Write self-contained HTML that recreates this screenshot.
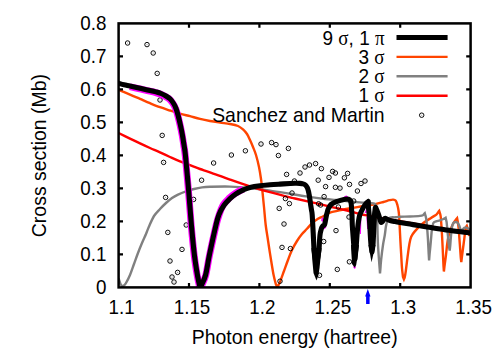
<!DOCTYPE html>
<html><head><meta charset="utf-8">
<style>
html,body{margin:0;padding:0;background:#fff;}
svg{display:block;}
text{font-family:"Liberation Sans",sans-serif;font-size:20px;fill:#000;}
.sym{font-family:"Liberation Serif",serif;}
</style></head>
<body>
<svg width="500" height="350" viewBox="0 0 500 350">
<rect width="500" height="350" fill="#fff"/>
<defs>
<clipPath id="cp"><rect x="118.6" y="23.4" width="352.0" height="264.0"/></clipPath>
<g id="pt"><circle r="2.25" fill="none" stroke="#000" stroke-width="0.95"/><circle r="0.55" fill="#000" fill-opacity="0.45"/></g>
</defs>
<g clip-path="url(#cp)" fill="none" stroke-linejoin="round" stroke-linecap="butt">
<path d="M118.60,89.90 C120.50,90.68 126.43,93.10 130.00,94.60 C133.57,96.10 136.67,97.47 140.00,98.90 C143.33,100.33 146.67,101.82 150.00,103.20 C153.33,104.58 156.67,105.98 160.00,107.20 C163.33,108.42 166.67,109.43 170.00,110.50 C173.33,111.57 176.67,112.65 180.00,113.60 C183.33,114.55 186.67,115.32 190.00,116.20 C193.33,117.08 196.67,118.10 200.00,118.90 C203.33,119.70 206.67,120.38 210.00,121.00 C213.33,121.62 216.67,122.10 220.00,122.60 C223.33,123.10 227.00,123.43 230.00,124.00 C233.00,124.57 235.83,125.10 238.00,126.00 C240.17,126.90 241.50,128.07 243.00,129.40 C244.50,130.73 245.83,132.23 247.00,134.00 C248.17,135.77 249.00,137.83 250.00,140.00 C251.00,142.17 252.00,144.50 253.00,147.00 C254.00,149.50 255.00,151.67 256.00,155.00 C257.00,158.33 258.17,163.00 259.00,167.00 C259.83,171.00 260.43,175.00 261.00,179.00 C261.57,183.00 261.90,186.33 262.40,191.00 C262.90,195.67 263.45,201.33 264.00,207.00 C264.55,212.67 265.12,220.00 265.70,225.00 C266.28,230.00 266.90,233.00 267.50,237.00 C268.10,241.00 268.68,245.00 269.30,249.00 C269.92,253.00 270.48,256.67 271.20,261.00 C271.92,265.33 272.83,271.17 273.60,275.00 C274.37,278.83 275.43,282.50 275.80,284.00 L277.40,287.20 C277.67,286.67 278.57,284.87 279.00,284.00 C279.43,283.13 279.17,284.17 280.00,282.00 C280.83,279.83 282.67,274.67 284.00,271.00 C285.33,267.33 286.67,263.50 288.00,260.00 C289.33,256.50 290.50,253.17 292.00,250.00 C293.50,246.83 295.33,243.67 297.00,241.00 C298.67,238.33 300.33,236.03 302.00,234.00 C303.67,231.97 305.33,230.60 307.00,228.80 C308.67,227.00 310.17,224.87 312.00,223.20 C313.83,221.53 316.20,219.92 318.00,218.80 C319.80,217.68 320.80,217.53 322.80,216.50 C324.80,215.47 326.80,213.72 330.00,212.60 C333.20,211.48 338.60,210.53 342.00,209.80 C345.40,209.07 346.90,208.80 350.40,208.20 C353.90,207.60 358.90,206.87 363.00,206.20 C367.10,205.53 371.60,204.90 375.00,204.20 C378.40,203.50 381.00,202.67 383.40,202.00 C385.80,201.33 387.77,200.60 389.40,200.20 C391.03,199.80 392.13,199.50 393.20,199.60 C394.27,199.70 395.10,199.90 395.80,200.80 C396.50,201.70 396.93,203.30 397.40,205.00 C397.87,206.70 398.30,209.00 398.60,211.00 C398.90,213.00 399.00,214.00 399.20,217.00 C399.40,220.00 399.60,225.00 399.80,229.00 C400.00,233.00 400.18,237.00 400.40,241.00 C400.62,245.00 400.83,248.50 401.10,253.00 C401.37,257.50 401.68,264.00 402.00,268.00 C402.32,272.00 402.83,275.50 403.00,277.00 L403.90,279.30 C404.05,278.92 404.48,278.38 404.80,277.00 C405.12,275.62 405.33,274.40 405.80,271.00 C406.27,267.60 407.00,261.10 407.60,256.60 C408.20,252.10 408.80,247.30 409.40,244.00 C410.00,240.70 410.30,238.90 411.20,236.80 C412.10,234.70 413.00,233.50 414.80,231.40 C416.60,229.30 419.30,226.45 422.00,224.20 C424.70,221.95 428.60,219.50 431.00,217.90 C433.40,216.30 435.13,215.65 436.40,214.60 C437.67,213.55 438.23,212.10 438.60,211.60 L439.20,210.90 L440.20,214.00 C440.32,214.75 440.60,215.00 440.90,218.50 C441.20,222.00 441.67,229.25 442.00,235.00 C442.33,240.75 442.65,247.83 442.90,253.00 C443.15,258.17 443.40,263.83 443.50,266.00 L443.90,271.50 L444.50,266.00 C444.72,264.43 445.35,260.27 445.80,256.60 C446.25,252.93 446.75,247.43 447.20,244.00 C447.65,240.57 447.90,238.50 448.50,236.00 C449.10,233.50 449.97,231.17 450.80,229.00 C451.63,226.83 452.57,224.67 453.50,223.00 C454.43,221.33 455.92,219.67 456.40,219.00 L457.10,218.20 L457.80,222.00 C457.93,223.00 458.27,224.33 458.60,228.00 C458.93,231.67 459.43,239.00 459.80,244.00 C460.17,249.00 460.63,255.67 460.80,258.00 L461.30,262.00 L461.90,257.00 C462.07,255.73 462.50,252.47 462.90,249.40 C463.30,246.33 463.90,241.67 464.30,238.60 C464.70,235.53 464.97,233.02 465.30,231.00 C465.63,228.98 466.13,227.25 466.30,226.50 L466.80,225.80 L467.80,229.00 L469.40,236.00" stroke="#ff4500" stroke-width="2.4" stroke-linejoin="miter" stroke-miterlimit="6"/>
<path d="M118.60,278.50 C118.92,279.42 119.87,282.72 120.50,284.00 C121.13,285.28 121.82,285.97 122.40,286.20 C122.98,286.43 123.40,285.93 124.00,285.40 C124.60,284.87 125.00,284.73 126.00,283.00 C127.00,281.27 128.67,278.17 130.00,275.00 C131.33,271.83 132.67,267.67 134.00,264.00 C135.33,260.33 136.67,256.50 138.00,253.00 C139.33,249.50 140.67,246.17 142.00,243.00 C143.33,239.83 144.83,236.75 146.00,234.00 C147.17,231.25 147.67,229.50 149.00,226.50 C150.33,223.50 152.17,218.92 154.00,216.00 C155.83,213.08 158.00,211.17 160.00,209.00 C162.00,206.83 164.00,204.83 166.00,203.00 C168.00,201.17 170.00,199.40 172.00,198.00 C174.00,196.60 175.67,195.70 178.00,194.60 C180.33,193.50 183.33,192.33 186.00,191.40 C188.67,190.47 191.33,189.67 194.00,189.00 C196.67,188.33 199.33,187.77 202.00,187.40 C204.67,187.03 205.33,186.93 210.00,186.80 C214.67,186.67 223.33,186.40 230.00,186.60 C236.67,186.80 243.33,187.33 250.00,188.00 C256.67,188.67 263.33,189.63 270.00,190.60 C276.67,191.57 284.00,192.83 290.00,193.80 C296.00,194.77 300.17,195.53 306.00,196.40 C311.83,197.27 320.00,198.40 325.00,199.00 C330.00,199.60 332.17,199.62 336.00,200.00 C339.83,200.38 344.00,200.90 348.00,201.30 C352.00,201.70 356.33,202.10 360.00,202.40 C363.67,202.70 367.60,202.88 370.00,203.10 C372.40,203.32 373.40,203.22 374.40,203.70 C375.40,204.18 375.58,204.12 376.00,206.00 C376.42,207.88 376.67,211.83 376.90,215.00 C377.13,218.17 377.28,221.67 377.40,225.00 C377.52,228.33 377.50,231.67 377.60,235.00 C377.70,238.33 377.77,240.83 378.00,245.00 C378.23,249.17 378.72,256.00 379.00,260.00 C379.28,264.00 379.58,267.50 379.70,269.00 L380.00,273.30 L380.40,269.00 C380.52,267.50 380.67,264.00 381.10,260.00 C381.53,256.00 382.38,249.17 383.00,245.00 C383.62,240.83 384.30,238.17 384.80,235.00 C385.30,231.83 385.55,228.42 386.00,226.00 C386.45,223.58 386.83,221.90 387.50,220.50 C388.17,219.10 388.75,218.13 390.00,217.60 C391.25,217.07 393.33,217.43 395.00,217.30 C396.67,217.17 397.50,216.93 400.00,216.80 C402.50,216.67 406.67,216.65 410.00,216.50 C413.33,216.35 417.83,216.12 420.00,215.90 C422.17,215.68 422.27,215.58 423.00,215.20 C423.73,214.82 424.17,213.87 424.40,213.60 L424.80,213.20 L425.60,216.00 C425.75,216.83 426.13,217.53 426.50,221.00 C426.87,224.47 427.43,231.30 427.80,236.80 C428.17,242.30 428.55,251.13 428.70,254.00 L429.10,260.40 L429.60,254.00 C429.75,252.50 430.22,248.00 430.50,245.00 C430.78,242.00 431.07,238.57 431.30,236.00 C431.53,233.43 431.55,231.77 431.90,229.60 C432.25,227.43 432.72,224.37 433.40,223.00 C434.08,221.63 434.90,221.83 436.00,221.40 C437.10,220.97 438.75,220.80 440.00,220.40 C441.25,220.00 442.67,219.37 443.50,219.00 C444.33,218.63 444.75,218.33 445.00,218.20 L445.60,217.80 L446.60,222.00 C446.73,223.33 447.07,226.50 447.40,230.00 C447.73,233.50 448.28,239.92 448.60,243.00 C448.92,246.08 449.18,247.58 449.30,248.50 L449.70,250.60 L450.20,246.00 C450.32,244.50 450.60,240.17 450.90,237.00 C451.20,233.83 451.58,229.33 452.00,227.00 C452.42,224.67 452.87,223.83 453.40,223.00 C453.93,222.17 454.53,222.07 455.20,222.00 C455.87,221.93 456.73,222.02 457.40,222.60 C458.07,223.18 458.67,224.35 459.20,225.50 C459.73,226.65 460.05,228.83 460.60,229.50 C461.15,230.17 461.88,229.78 462.50,229.50 C463.12,229.22 463.72,228.12 464.30,227.80 C464.88,227.48 465.25,227.40 466.00,227.60 C466.75,227.80 468.03,228.60 468.80,229.00 C469.57,229.40 470.30,229.83 470.60,230.00" stroke="#808080" stroke-width="2.4" stroke-linejoin="miter" stroke-miterlimit="6"/>
<path d="M118.60,133.00 C120.50,133.93 126.43,136.87 130.00,138.60 C133.57,140.33 136.67,141.83 140.00,143.40 C143.33,144.97 146.67,146.50 150.00,148.00 C153.33,149.50 156.67,150.90 160.00,152.40 C163.33,153.90 166.67,155.50 170.00,157.00 C173.33,158.50 176.67,160.03 180.00,161.40 C183.33,162.77 186.67,163.93 190.00,165.20 C193.33,166.47 196.67,167.82 200.00,169.00 C203.33,170.18 205.00,170.53 210.00,172.30 C215.00,174.07 223.33,177.25 230.00,179.60 C236.67,181.95 243.33,184.30 250.00,186.40 C256.67,188.50 263.33,190.37 270.00,192.20 C276.67,194.03 285.83,196.35 290.00,197.40 C294.17,198.45 290.00,197.37 295.00,198.50 C300.00,199.63 311.67,202.28 320.00,204.20 C328.33,206.12 338.33,208.37 345.00,210.00 C351.67,211.63 355.83,213.00 360.00,214.00 C364.17,215.00 366.33,215.28 370.00,216.00 C373.67,216.72 377.00,217.43 382.00,218.30 C387.00,219.17 391.83,219.82 400.00,221.20 C408.17,222.58 422.67,225.20 431.00,226.60 C439.33,228.00 443.40,228.65 450.00,229.60 C456.60,230.55 467.17,231.85 470.60,232.30" stroke="#ff0000" stroke-width="2.4"/>
<use href="#pt" x="127.6" y="43.0"/>
<use href="#pt" x="147.0" y="44.6"/>
<use href="#pt" x="153.2" y="53.0"/>
<use href="#pt" x="157.2" y="73.4"/>
<use href="#pt" x="160.0" y="100.0"/>
<use href="#pt" x="162.2" y="135.4"/>
<use href="#pt" x="163.6" y="162.4"/>
<use href="#pt" x="165.6" y="197.4"/>
<use href="#pt" x="167.8" y="232.4"/>
<use href="#pt" x="170.0" y="261.0"/>
<use href="#pt" x="172.0" y="277.0"/>
<use href="#pt" x="174.0" y="282.0"/>
<use href="#pt" x="177.6" y="272.4"/>
<use href="#pt" x="182.0" y="249.4"/>
<use href="#pt" x="186.2" y="225.0"/>
<use href="#pt" x="193.6" y="199.4"/>
<use href="#pt" x="201.6" y="180.2"/>
<use href="#pt" x="213.6" y="163.0"/>
<use href="#pt" x="231.4" y="155.0"/>
<use href="#pt" x="245.4" y="150.8"/>
<use href="#pt" x="261.0" y="144.0"/>
<use href="#pt" x="271.6" y="142.6"/>
<use href="#pt" x="276.0" y="144.6"/>
<use href="#pt" x="288.4" y="148.4"/>
<use href="#pt" x="278.4" y="155.5"/>
<use href="#pt" x="286.6" y="174.4"/>
<use href="#pt" x="300.0" y="173.0"/>
<use href="#pt" x="305.0" y="167.0"/>
<use href="#pt" x="309.5" y="165.0"/>
<use href="#pt" x="315.6" y="163.6"/>
<use href="#pt" x="321.4" y="168.6"/>
<use href="#pt" x="332.6" y="171.4"/>
<use href="#pt" x="335.4" y="173.0"/>
<use href="#pt" x="329.0" y="177.4"/>
<use href="#pt" x="318.2" y="180.2"/>
<use href="#pt" x="325.6" y="186.6"/>
<use href="#pt" x="335.4" y="187.3"/>
<use href="#pt" x="340.0" y="188.1"/>
<use href="#pt" x="344.4" y="177.8"/>
<use href="#pt" x="347.6" y="173.4"/>
<use href="#pt" x="349.5" y="184.4"/>
<use href="#pt" x="357.4" y="191.0"/>
<use href="#pt" x="361.0" y="183.5"/>
<use href="#pt" x="365.0" y="181.0"/>
<use href="#pt" x="324.1" y="196.6"/>
<use href="#pt" x="318.6" y="203.8"/>
<use href="#pt" x="320.6" y="205.0"/>
<use href="#pt" x="338.4" y="207.0"/>
<use href="#pt" x="353.7" y="201.0"/>
<use href="#pt" x="349.0" y="217.0"/>
<use href="#pt" x="336.0" y="230.6"/>
<use href="#pt" x="323.7" y="241.5"/>
<use href="#pt" x="349.4" y="261.8"/>
<use href="#pt" x="337.3" y="269.4"/>
<use href="#pt" x="319.5" y="275.3"/>
<use href="#pt" x="294.4" y="181.0"/>
<use href="#pt" x="292.0" y="193.0"/>
<use href="#pt" x="285.4" y="198.6"/>
<use href="#pt" x="289.4" y="203.6"/>
<use href="#pt" x="279.2" y="208.4"/>
<use href="#pt" x="284.0" y="224.0"/>
<use href="#pt" x="282.0" y="247.4"/>
<use href="#pt" x="290.4" y="248.6"/>
<use href="#pt" x="280.0" y="281.2"/>
<path d="M129.85,86.75 C131.52,87.12 136.52,88.22 139.85,88.95 C143.18,89.68 147.18,90.53 149.85,91.15 C152.52,91.77 154.02,92.13 155.85,92.65 C157.68,93.17 159.18,93.57 160.85,94.25 C162.52,94.93 164.35,95.87 165.85,96.75 C167.35,97.63 168.58,98.30 169.85,99.55 C171.12,100.80 172.45,102.63 173.45,104.25 C174.45,105.87 175.12,107.33 175.85,109.25 C176.58,111.17 177.12,113.00 177.85,115.75 C178.58,118.50 179.52,122.42 180.25,125.75 C180.98,129.08 181.65,132.42 182.25,135.75 C182.85,139.08 183.35,142.42 183.85,145.75 C184.35,149.08 184.48,148.25 185.25,155.75 C186.02,163.25 187.45,179.08 188.45,190.75 C189.45,202.42 190.28,214.92 191.25,225.75 C192.22,236.58 193.25,247.42 194.25,255.75 C195.25,264.08 196.37,270.58 197.25,275.75 C198.13,280.92 199.17,284.92 199.55,286.75 L200.40,291.00 C200.55,290.23 200.42,289.00 201.30,286.40 C202.18,283.80 204.33,280.57 205.70,275.40 C207.07,270.23 207.77,263.73 209.50,255.40 C211.23,247.07 214.50,232.15 216.10,225.40 C217.70,218.65 217.90,218.33 219.10,214.90 C220.30,211.47 221.60,207.60 223.30,204.80 C225.00,202.00 227.30,200.02 229.30,198.10 C231.30,196.18 232.97,194.80 235.30,193.30 C237.63,191.80 241.97,189.80 243.30,189.10" stroke="#ff00ff" stroke-width="6.9"/>
<path d="M343.50,198.50 L346.20,196.60 L348.30,198.60" stroke="#ff00ff" stroke-width="2.2" stroke-linecap="round"/>
<path d="M322.30,220.50 L322.60,218.50" stroke="#ff00ff" stroke-width="2.2" stroke-linecap="round"/>
<path d="M324.20,228.00 L325.20,227.00" stroke="#ff00ff" stroke-width="2.2" stroke-linecap="round"/>
<path d="M354.40,267.00 L354.70,267.60" stroke="#ff00ff" stroke-width="2.2" stroke-linecap="round"/>
<path d="M388.00,218.60 L389.00,219.00" stroke="#ff00ff" stroke-width="2.2" stroke-linecap="round"/>
<path d="M360.8,219 L360.4,234" stroke="#ff00ff" stroke-width="1.1"/>
<path d="M366.9,217 L367.6,229" stroke="#ff00ff" stroke-width="1.0"/>
<path d="M364.6,213 L366.2,208.5 L366.7,213 Z" fill="#ff00ff" stroke="none"/>
<path d="M118.60,83.30 C119.50,83.53 122.10,84.25 124.00,84.70 C125.90,85.15 127.33,85.42 130.00,86.00 C132.67,86.58 136.67,87.47 140.00,88.20 C143.33,88.93 147.33,89.78 150.00,90.40 C152.67,91.02 154.17,91.38 156.00,91.90 C157.83,92.42 159.33,92.82 161.00,93.50 C162.67,94.18 164.50,95.12 166.00,96.00 C167.50,96.88 168.73,97.55 170.00,98.80 C171.27,100.05 172.60,101.88 173.60,103.50 C174.60,105.12 175.27,106.58 176.00,108.50 C176.73,110.42 177.27,112.25 178.00,115.00 C178.73,117.75 179.67,121.67 180.40,125.00 C181.13,128.33 181.80,131.67 182.40,135.00 C183.00,138.33 183.50,141.67 184.00,145.00 C184.50,148.33 184.63,147.50 185.40,155.00 C186.17,162.50 187.60,178.33 188.60,190.00 C189.60,201.67 190.43,214.17 191.40,225.00 C192.37,235.83 193.40,246.67 194.40,255.00 C195.40,263.33 196.52,269.83 197.40,275.00 C198.28,280.17 199.32,284.17 199.70,286.00 L200.40,291.00 C200.53,290.17 200.33,288.67 201.20,286.00 C202.07,283.33 204.23,280.17 205.60,275.00 C206.97,269.83 207.67,263.33 209.40,255.00 C211.13,246.67 214.40,231.75 216.00,225.00 C217.60,218.25 217.67,217.78 219.00,214.50 C220.33,211.22 222.17,207.95 224.00,205.30 C225.83,202.65 228.00,200.52 230.00,198.60 C232.00,196.68 233.67,195.30 236.00,193.80 C238.33,192.30 241.67,190.67 244.00,189.60 C246.33,188.53 247.33,188.05 250.00,187.40 C252.67,186.75 256.67,186.13 260.00,185.70 C263.33,185.27 266.67,185.07 270.00,184.80 C273.33,184.53 276.67,184.32 280.00,184.10 C283.33,183.88 287.50,183.63 290.00,183.50 C292.50,183.37 293.33,183.32 295.00,183.30 C296.67,183.28 298.67,183.30 300.00,183.40 C301.33,183.50 302.08,183.62 303.00,183.90 C303.92,184.18 304.78,184.48 305.50,185.10 C306.22,185.72 306.82,186.62 307.30,187.60 C307.78,188.58 308.08,189.77 308.40,191.00 C308.72,192.23 308.93,193.50 309.20,195.00 C309.47,196.50 309.75,198.33 310.00,200.00 C310.25,201.67 310.45,203.33 310.70,205.00 C310.95,206.67 311.25,208.33 311.50,210.00 C311.75,211.67 311.90,210.83 312.20,215.00 C312.50,219.17 313.00,229.17 313.30,235.00 C313.60,240.83 313.88,247.50 314.00,250.00 L316.40,266.00 L319.00,250.00 C319.17,247.50 319.58,238.63 320.00,235.00 C320.42,231.37 321.07,229.67 321.50,228.20 C321.93,226.73 322.12,226.73 322.60,226.20 C323.08,225.67 323.97,225.70 324.40,225.00 C324.83,224.30 324.85,223.67 325.20,222.00 C325.55,220.33 326.17,216.58 326.50,215.00 C326.83,213.42 326.92,213.50 327.20,212.50 C327.48,211.50 327.57,210.33 328.20,209.00 C328.83,207.67 329.62,205.72 331.00,204.50 C332.38,203.28 334.17,202.57 336.50,201.70 C338.83,200.83 343.00,199.72 345.00,199.30 C347.00,198.88 347.60,198.95 348.50,199.20 C349.40,199.45 349.93,199.92 350.40,200.80 C350.87,201.68 351.10,202.97 351.30,204.50 C351.50,206.03 351.48,208.25 351.60,210.00 C351.72,211.75 351.88,212.50 352.00,215.00 C352.12,217.50 352.13,221.67 352.30,225.00 C352.47,228.33 352.75,231.67 353.00,235.00 C353.25,238.33 353.67,243.33 353.80,245.00 L355.00,259.00 L356.30,245.00 C356.42,243.33 356.72,238.33 357.00,235.00 C357.28,231.67 357.58,228.17 358.00,225.00 C358.42,221.83 358.87,218.42 359.50,216.00 C360.13,213.58 361.02,212.17 361.80,210.50 C362.58,208.83 363.42,207.27 364.20,206.00 C364.98,204.73 365.87,203.60 366.50,202.90 C367.13,202.20 367.75,201.98 368.00,201.80 L368.30,201.50 L368.40,207.00 L369.20,215.00 C369.38,218.33 370.00,230.00 370.30,235.00 C370.60,240.00 370.88,243.33 371.00,245.00 L372.00,252.00 L373.00,245.00 C373.08,243.33 373.25,240.00 373.50,235.00 C373.75,230.00 374.20,219.50 374.50,215.00 C374.80,210.50 375.17,209.17 375.30,208.00 L375.60,207.30 L377.20,211.00 C377.50,211.83 378.50,214.42 379.00,216.00 C379.50,217.58 379.83,219.42 380.20,220.50 C380.57,221.58 380.80,222.33 381.20,222.50 C381.60,222.67 382.13,222.08 382.60,221.50 C383.07,220.92 383.57,219.52 384.00,219.00 C384.43,218.48 384.70,218.37 385.20,218.40 C385.70,218.43 386.20,218.85 387.00,219.20 C387.80,219.55 388.67,220.10 390.00,220.50 C391.33,220.90 393.33,221.27 395.00,221.60 C396.67,221.93 397.50,222.08 400.00,222.50 C402.50,222.92 406.67,223.55 410.00,224.10 C413.33,224.65 416.50,225.22 420.00,225.80 C423.50,226.38 426.17,226.85 431.00,227.60 C435.83,228.35 442.40,229.40 449.00,230.30 C455.60,231.20 467.00,232.55 470.60,233.00" stroke="#000" stroke-width="5.1"/>
<path d="M311.50,248.00 L312.30,260.00 L313.50,273.00 L316.50,280.60 L318.50,275.00 L319.50,268.00 L321.50,248.00 Z" fill="#000" stroke="none"/>
<path d="M351.00,245.00 L351.50,255.00 L352.00,264.00 L354.80,267.70 L356.20,265.00 L359.00,245.00 Z" fill="#000" stroke="none"/>
<path d="M368.50,245.00 L371.50,262.30 L375.50,245.00 Z" fill="#000" stroke="none"/>
<path d="M365.80,203.00 L368.30,198.40 L370.80,208.00 L368.00,208.00 Z" fill="#000" stroke="none"/>
</g>
<rect x="118.6" y="23.4" width="352.0" height="264.0" fill="none" stroke="#000" stroke-width="2.5"/>
<g stroke="#000" stroke-width="2.2">
<path d="M118.6,254.4 h4.4 M470.6,254.4 h-4.4"/>
<path d="M118.6,221.4 h4.4 M470.6,221.4 h-4.4"/>
<path d="M118.6,188.4 h4.4 M470.6,188.4 h-4.4"/>
<path d="M118.6,155.4 h4.4 M470.6,155.4 h-4.4"/>
<path d="M118.6,122.4 h4.4 M470.6,122.4 h-4.4"/>
<path d="M118.6,89.4 h4.4 M470.6,89.4 h-4.4"/>
<path d="M118.6,56.4 h4.4 M470.6,56.4 h-4.4"/>
<path d="M189.0,287.4 v-4.4 M189.0,23.4 v4.4"/>
<path d="M259.4,287.4 v-4.4 M259.4,23.4 v4.4"/>
<path d="M329.8,287.4 v-4.4 M329.8,23.4 v4.4"/>
<path d="M400.2,287.4 v-4.4 M400.2,23.4 v4.4"/>
</g>
<text transform="translate(106.40,294.20) scale(0.940,1)" text-anchor="end">0</text>
<text transform="translate(106.40,261.20) scale(0.940,1)" text-anchor="end">0.1</text>
<text transform="translate(106.40,228.20) scale(0.940,1)" text-anchor="end">0.2</text>
<text transform="translate(106.40,195.20) scale(0.940,1)" text-anchor="end">0.3</text>
<text transform="translate(106.40,162.20) scale(0.940,1)" text-anchor="end">0.4</text>
<text transform="translate(106.40,129.20) scale(0.940,1)" text-anchor="end">0.5</text>
<text transform="translate(106.40,96.20) scale(0.940,1)" text-anchor="end">0.6</text>
<text transform="translate(106.40,63.20) scale(0.940,1)" text-anchor="end">0.7</text>
<text transform="translate(106.40,30.20) scale(0.940,1)" text-anchor="end">0.8</text>
<text transform="translate(121.60,313.50) scale(0.940,1)" text-anchor="middle">1.1</text>
<text transform="translate(192.00,313.50) scale(0.940,1)" text-anchor="middle">1.15</text>
<text transform="translate(262.40,313.50) scale(0.940,1)" text-anchor="middle">1.2</text>
<text transform="translate(332.80,313.50) scale(0.940,1)" text-anchor="middle">1.25</text>
<text transform="translate(403.20,313.50) scale(0.940,1)" text-anchor="middle">1.3</text>
<text transform="translate(473.60,313.50) scale(0.940,1)" text-anchor="middle">1.35</text>
<text transform="translate(294.70,343.60) scale(0.970,1)" text-anchor="middle">Photon energy (hartree)</text>
<text transform="translate(45.6,155.6) rotate(-90) scale(0.973,1)" text-anchor="middle">Cross section (Mb)</text>
<text transform="translate(384.60,44.50) scale(0.950,1)" text-anchor="end">9 <tspan class="sym">σ</tspan>, 1 <tspan class="sym">π</tspan></text>
<text transform="translate(384.60,63.80) scale(0.950,1)" text-anchor="end">3 <tspan class="sym">σ</tspan></text>
<text transform="translate(384.60,83.00) scale(0.950,1)" text-anchor="end">2 <tspan class="sym">σ</tspan></text>
<text transform="translate(384.60,102.30) scale(0.950,1)" text-anchor="end">1 <tspan class="sym">σ</tspan></text>
<text transform="translate(384.60,122.00) scale(0.970,1)" text-anchor="end">Sanchez and Martin</text>
<path d="M396.5,37.5 H447.6" stroke="#000" stroke-width="5.1"/>
<path d="M396.5,56.9 H447.6" stroke="#ff4500" stroke-width="2.4"/>
<path d="M396.5,76.3 H447.6" stroke="#808080" stroke-width="2.4"/>
<path d="M396.5,95.7 H447.6" stroke="#ff0000" stroke-width="2.4"/>
<use href="#pt" x="421.7" y="115.2"/>
<path d="M367.8,289 L370.5,296.4 L369.6,296.4 L369.6,304 L366.1,304 L366.1,296.4 L365.1,296.4 Z" fill="#0000ff"/>
</svg>
</body></html>
